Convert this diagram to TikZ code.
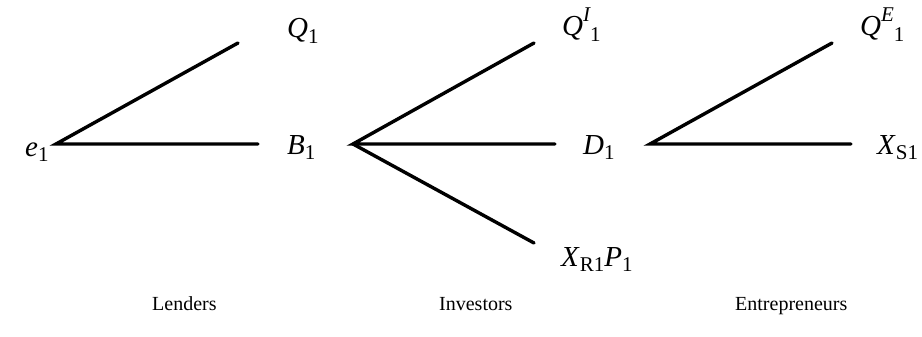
\documentclass[tikz,border=0pt]{standalone}
\usepackage{fontspec}
\setmainfont{Liberation Serif}
\newcommand{\lsub}[1]{\raisebox{-0.2em}{\fontsize{21}{21}\selectfont #1}}
\newcommand{\lsup}[1]{\raisebox{0.5em}{\fontsize{21}{21}\selectfont\itshape #1}}
\tikzset{
  branch/.style={line width=3.4pt, line cap=round},
  lab/.style={anchor=base west, inner sep=0pt, font=\fontsize{29}{29}\selectfont},
  group/.style={anchor=base west, inner sep=0pt, font=\fontsize{20}{20}\selectfont},
}
\begin{document}
\begin{tikzpicture}[x=1pt,y=-1pt]
\useasboundingbox (0,0) rectangle (922,337);
% apexes
\coordinate (L) at (56,144);
\coordinate (I) at (353,144);
\coordinate (E) at (650,144);
% ends
\coordinate (Lq) at (238,43);
\coordinate (Lb) at (258,144);
\coordinate (Iq) at (534,43);
\coordinate (Id) at (555,144);
\coordinate (Ix) at (534,243);
\coordinate (Eq) at (832,43);
\coordinate (Ex) at (851,144);
\draw[branch] (Lq) -- (L) -- (Lb);
\draw[branch] (Iq) -- (I) -- (Id);
\draw[branch] (I) -- (Ix);
\draw[branch] (Eq) -- (E) -- (Ex);
% labels
\node[lab] (e1) at (25,156) {\textit{e}\lsub{1}};
\node[lab] (q1) at (287,38) {\textit{Q}\lsub{1}};
\node[lab] (b1) at (287,154) {\textit{B}\lsub{1}};
\node[lab] (qi) at (562,36) {\textit{Q}\lsup{I}\lsub{1}};
\node[lab] (d1) at (583,154) {\textit{D}\lsub{1}};
\node[lab] (xr) at (561,266) {\textit{X}\lsub{R1}\textit{P}\lsub{1}};
\node[lab] (qe) at (860,36) {\textit{Q}\lsup{E}\lsub{1}};
\node[lab] (xs) at (877,154) {\textit{X}\lsub{S1}};
\node[group] (len) at (152,310) {Lenders};
\node[group] (inv) at (439,310) {Investors};
\node[group] (ent) at (735,310) {Entrepreneurs};
\end{tikzpicture}
\end{document}
